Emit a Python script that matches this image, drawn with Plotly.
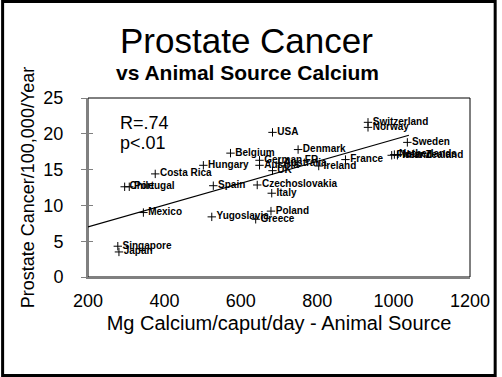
import plotly.graph_objects as go

countries = ["Switzerland", "Norway", "USA", "Sweden", "Denmark", "France",
             "Finland", "Netherlands", "New Zealand", "Belgium", "Hungary",
             "German FR", "Austria", "Australia", "UK", "Ireland", "Costa Rica",
             "Chile", "Portugal", "Spain", "Czechoslovakia", "Italy", "Mexico",
             "Poland", "Yugoslavia", "Greece", "Singapore", "Japan"]
calcium = [933, 933, 683, 1036, 750, 874,
           995, 1002, 1010, 573, 502,
           649, 649, 700, 683, 804, 376,
           296, 308, 528, 643, 681, 345,
           679, 524, 639, 278, 281]
incidence = [21.6, 20.9, 20.2, 18.8, 17.8, 16.4,
             17.0, 17.1, 17.0, 17.3, 15.6,
             16.3, 15.6, 15.9, 14.85, 15.5, 14.4,
             12.6, 12.6, 12.75, 12.85, 11.7, 9.0,
             9.2, 8.4, 8.06, 4.3, 3.5]

trend_x = [200, 1040]
trend_y = [7.0, 19.8]

x_ticks = [200, 400, 600, 800, 1000, 1200]
y_ticks = [0, 5, 10, 15, 20, 25]

FONT = "Arial, Liberation Sans, sans-serif"

fig = go.Figure()
fig.add_trace(go.Scatter(x=trend_x, y=trend_y, mode="lines",
                         line=dict(color="black", width=1.2), hoverinfo="skip"))
fig.add_trace(go.Scatter(
    x=calcium, y=incidence, mode="markers+text", text=countries,
    textposition="middle right",
    textfont=dict(family=FONT, size=10, color="black", weight="bold"),
    marker=dict(symbol="cross-thin", size=6, line=dict(color="black", width=1), color="black"),
))

L, R, T, B = 88, 27, 98, 100
W, H = 502, 377
pw, ph = W - L - R, H - T - B

fig.update_layout(
    width=W, height=H,
    margin=dict(l=L, r=R, t=T, b=B),
    paper_bgcolor="white", plot_bgcolor="white",
    showlegend=False,
    font=dict(family=FONT, color="black"),
    xaxis=dict(range=[200, 1200], tickvals=x_ticks, ticks="", showgrid=False,
               zeroline=False, showline=True, linecolor="#808080", linewidth=2,
               tickfont=dict(size=18), ticklabelstandoff=6,
               title=dict(text="Mg Calcium/caput/day - Animal Source",
                          font=dict(size=20), standoff=6)),
    yaxis=dict(range=[0, 25], tickvals=y_ticks, ticks="outside", ticklen=5,
               tickcolor="#808080", showgrid=False, zeroline=False,
               showline=True, linecolor="#808080", linewidth=2,
               tickfont=dict(size=18), ticklabelstandoff=14,
               title=dict(text="Prostate Cancer/100,000/Year",
                          font=dict(size=18), standoff=4)),
    yaxis2=dict(range=[0, 25], tickvals=y_ticks, ticks="inside", ticklen=5,
                tickcolor="#808080", overlaying="y", side="left",
                showticklabels=False, showgrid=False, zeroline=False, showline=False),
)
fig.add_trace(go.Scatter(x=[None], y=[None], yaxis="y2", showlegend=False))

# plot frame (top/right)
fig.add_shape(type="rect", xref="paper", yref="paper", x0=0, x1=1, y0=0, y1=1,
              line=dict(color="black", width=1), layer="below")
# outer black border
fig.add_shape(type="rect", xref="paper", yref="paper",
              x0=(-L + 1.5) / pw, x1=(W - L - 1.5) / pw,
              y0=(-B + 1.5) / ph, y1=1 + (T - 1.5) / ph,
              line=dict(color="black", width=3))

fig.add_annotation(text="Prostate Cancer", xref="paper", yref="paper",
                   x=(249 - L) / pw, y=1 + (T - 40) / ph, showarrow=False,
                   font=dict(size=35), xanchor="center", yanchor="middle")
fig.add_annotation(text="<b>vs Animal Source Calcium</b>", xref="paper", yref="paper",
                   x=(250 - L) / pw, y=1 + (T - 72) / ph, showarrow=False,
                   font=dict(size=21), xanchor="center", yanchor="middle")
fig.add_annotation(text="R=.74", xref="paper", yref="paper",
                   x=(118 - L) / pw, y=1 - (123 - T) / ph, showarrow=False,
                   font=dict(size=18), xanchor="left", yanchor="middle")
fig.add_annotation(text="p<.01", xref="paper", yref="paper",
                   x=(118 - L) / pw, y=1 - (143 - T) / ph, showarrow=False,
                   font=dict(size=18), xanchor="left", yanchor="middle")

fig.write_html("out.html", config={"displayModeBar": False},
               post_script="document.body.style.margin='0';document.body.style.overflow='hidden';")
